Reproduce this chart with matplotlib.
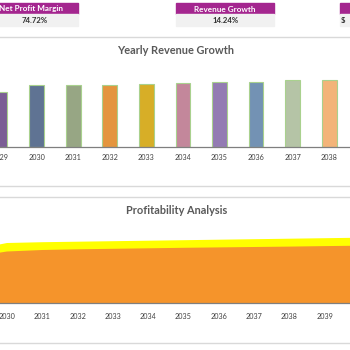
import matplotlib.pyplot as plt
from matplotlib.patches import Rectangle
from matplotlib.lines import Line2D

# yearly revenue (bars)
bar_years = [2029, 2030, 2031, 2032, 2033, 2034, 2035, 2036, 2037, 2038]
revenue = [550, 620, 620, 625, 635, 640, 650, 655, 670, 675]
bar_colors = ["#7b5e95", "#5f7393", "#97a684", "#e4953e", "#d7ae27",
              "#c3879b", "#937bb3", "#7392b4", "#b5c4a6", "#f3b479"]

# profitability (overlapping areas)
area_years = [2029, 2030, 2031, 2032, 2033, 2034, 2035, 2036, 2037, 2038, 2039, 2040]
total_rev = [530, 600, 608, 613, 618, 623, 628, 633, 638, 643, 648, 653]
net_profit = [460, 515, 530, 537, 542, 547, 552, 556, 560, 564, 569, 573]

# KPI boxes
kpi_names = ["Net Profit Margin", "Revenue Growth", ""]
kpi_values = ["74.72%", "14.24%", "$"]

W = H = 350.0
fig = plt.figure(figsize=(3.5, 3.5), dpi=100)
plt.rcParams['font.family'] = ['Lato', 'DejaVu Sans']


def fx(px):
    return px / W


def fy(py):
    return 1 - py / H


# KPI header boxes (box edges, header text x, value text x)
boxes = [(-10, 78, 31, 35), (176, 274, 225, 226), (340, 352, 0, 343)]
for (x0, x1, tx, vx), name, val in zip(boxes, kpi_names, kpi_values):
    fig.patches.append(Rectangle((fx(x0), fy(14)), fx(x1 - x0), 10.5 / H,
                                 transform=fig.transFigure, color="#a4268f"))
    fig.patches.append(Rectangle((fx(x0), fy(26)), fx(x1 - x0), 12 / H,
                                 transform=fig.transFigure, color="#f1f1f1"))
    if name:
        fig.text(fx(tx), fy(9), name, color="white", fontsize=5.9, fontweight="bold",
                 ha="center", va="center")
    fig.text(fx(vx), fy(20.5), val, color="#333333", fontsize=5.6, fontweight="bold",
             ha="center", va="center")

# separator lines
for yy in [37, 186, 197, 343]:
    fig.lines.append(Line2D([0, 1], [fy(yy), fy(yy)], transform=fig.transFigure,
                            color="#d9d9d9", lw=1.0))

# bar chart
ax1 = fig.add_axes([0, fy(147), 1, 77 / H])
ax1.bar(bar_years, revenue, width=0.405, color=bar_colors,
        edgecolor="#a9d18e", linewidth=0.8)
ax1.set_xlim(2030 - 33 / 37, 2030 + 317 / 37)
ax1.set_ylim(0, 770)
ax1.set_xticks(bar_years)
ax1.set_xticklabels([str(y) for y in bar_years])
ax1.tick_params(axis="x", length=0, pad=5, labelsize=5.2, labelcolor="#404040")
ax1.set_yticks([])
for s in ["top", "left", "right"]:
    ax1.spines[s].set_visible(False)
ax1.spines["bottom"].set_color("#7f7f7f")
ax1.spines["bottom"].set_linewidth(0.9)
ax1.patch.set_alpha(0)
fig.text(fx(176), fy(51), "Yearly Revenue Growth", color="#595959",
         fontsize=7.9, fontweight="bold", ha="center", va="center")

# area chart
ax2 = fig.add_axes([0, fy(303), 1, 78 / H])
ax2.fill_between(area_years, 0, total_rev, color="#ffff00", lw=0)
ax2.fill_between(area_years, 0, net_profit, color="#f5942b", lw=0)
ax2.set_xlim(2030 - 7 / 35.3, 2030 + 343 / 35.3)
ax2.set_ylim(0, 780)
ticks2 = list(range(2030, 2040))
ax2.set_xticks(ticks2)
ax2.set_xticklabels([str(y) for y in ticks2])
ax2.tick_params(axis="x", length=0, pad=7.5, labelsize=5.2, labelcolor="#404040")
ax2.set_yticks([])
for s in ["top", "left", "right"]:
    ax2.spines[s].set_visible(False)
ax2.spines["bottom"].set_color("#7f7f7f")
ax2.spines["bottom"].set_linewidth(0.9)
ax2.patch.set_alpha(0)
fig.text(fx(177), fy(211), "Profitability Analysis", color="#595959",
         fontsize=7.9, fontweight="bold", ha="center", va="center")

fig.savefig("out.png", dpi=100)
